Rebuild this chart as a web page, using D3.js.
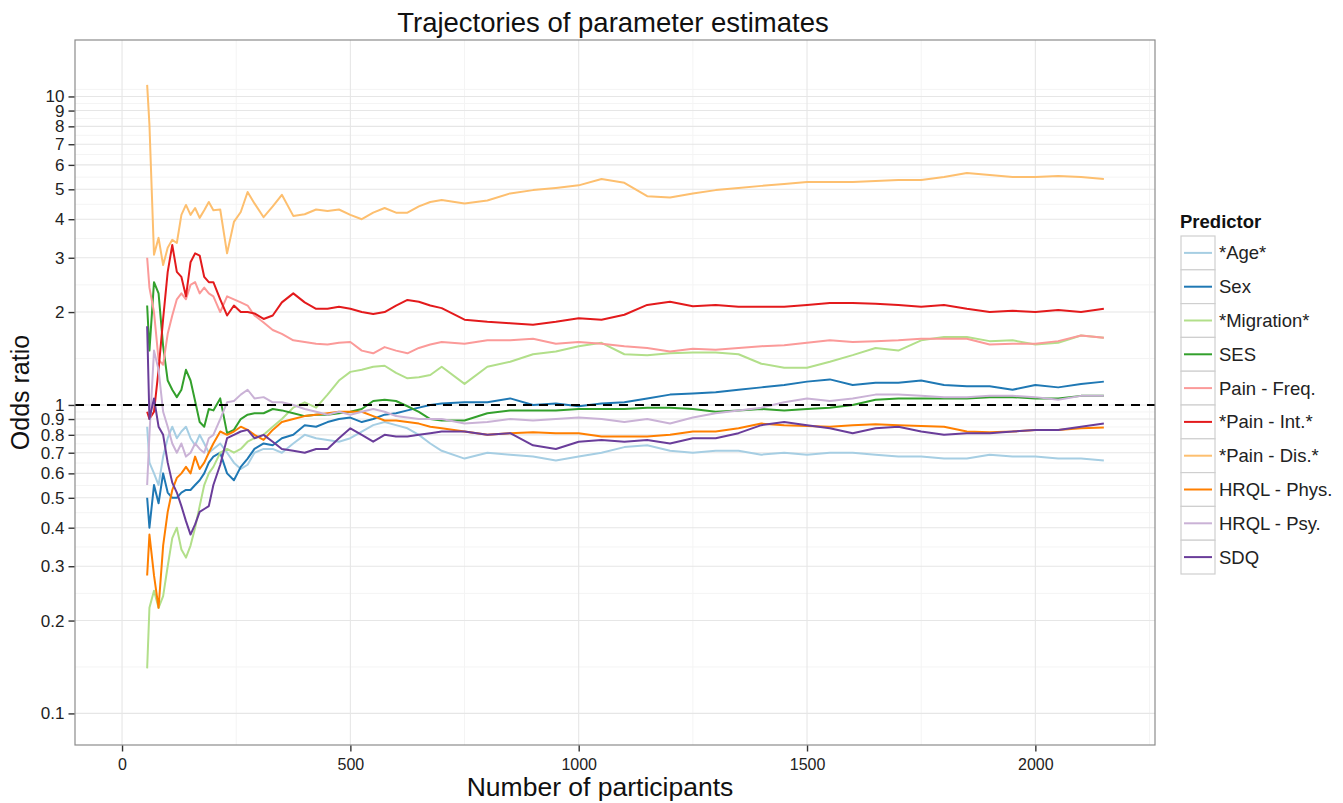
<!DOCTYPE html>
<html><head><meta charset="utf-8">
<script src="https://cdn.jsdelivr.net/npm/d3@7"></script>
<style>
html,body{margin:0;padding:0;background:#fff;}
svg text{font-family:"Liberation Sans",Arial,Helvetica,sans-serif;}
</style></head>
<body>
<svg id="chart" width="1343" height="803"></svg>
<script>
// ---------- data ----------
const participants = [55,60,70,80,90,100,110,120,130,140,150,160,170,180,190,200,
  215,230,245,260,275,290,310,330,350,
  375,400,425,450,475,500,525,550,575,600,625,650,675,700,
  750,800,850,900,950,1000,1050,1100,1150,1200,1250,1300,1350,1400,1450,1500,1550,1600,1650,1700,1750,1800,1850,1900,1950,2000,2050,2100,2150];

const age = [0.85,0.65,0.6,0.55,0.68,0.78,0.85,0.78,0.82,0.85,0.78,0.74,0.8,0.75,0.7,0.72,
  0.75,0.7,0.65,0.62,0.64,0.7,0.72,0.72,0.7,
  0.75,0.8,0.78,0.77,0.76,0.78,0.82,0.86,0.88,0.86,0.84,0.8,0.75,0.71,
  0.67,0.7,0.69,0.68,0.66,0.68,0.7,0.73,0.74,0.71,0.7,0.71,0.71,0.69,0.7,0.69,0.7,0.7,0.69,0.68,0.68,0.67,0.67,0.69,0.68,0.68,0.67,0.67,0.66];
const sex = [0.5,0.4,0.55,0.48,0.6,0.52,0.5,0.5,0.52,0.53,0.53,0.55,0.57,0.6,0.65,0.68,
  0.7,0.6,0.57,0.63,0.67,0.72,0.75,0.74,0.78,
  0.8,0.86,0.85,0.88,0.9,0.91,0.88,0.9,0.93,0.94,0.96,0.98,1.0,1.01,
  1.02,1.02,1.05,1.0,1.01,0.99,1.01,1.02,1.05,1.08,1.09,1.1,1.12,1.14,1.16,1.19,1.21,1.16,1.18,1.18,1.2,1.16,1.15,1.15,1.12,1.16,1.14,1.17,1.19];
const migration = [0.14,0.22,0.25,0.22,0.24,0.3,0.37,0.4,0.34,0.32,0.35,0.4,0.47,0.55,0.6,0.63,
  0.7,0.72,0.7,0.72,0.76,0.78,0.8,0.85,0.9,
  0.98,1.02,0.98,1.08,1.2,1.28,1.3,1.33,1.34,1.27,1.22,1.23,1.25,1.33,
  1.17,1.33,1.38,1.46,1.49,1.55,1.59,1.46,1.45,1.47,1.48,1.48,1.46,1.36,1.32,1.32,1.38,1.45,1.53,1.5,1.62,1.66,1.66,1.61,1.62,1.57,1.59,1.68,1.65];
const ses = [2.1,1.5,2.5,2.3,1.55,1.2,1.12,1.06,1.12,1.3,1.2,1.03,0.88,0.85,0.97,0.96,
  1.05,0.81,0.83,0.9,0.93,0.94,0.94,0.97,0.96,
  0.94,0.92,0.93,0.93,0.94,0.95,0.97,1.03,1.04,1.03,0.99,0.95,0.9,0.89,
  0.89,0.94,0.96,0.96,0.96,0.97,0.97,0.97,0.98,0.98,0.97,0.95,0.96,0.97,0.96,0.97,0.98,1.0,1.04,1.05,1.05,1.05,1.05,1.06,1.06,1.05,1.05,1.07,1.07];
const painFreq = [3.0,2.4,2.0,1.4,1.35,1.7,1.95,2.2,2.3,2.2,2.45,2.5,2.3,2.4,2.3,2.25,
  2.0,2.25,2.2,2.15,2.1,1.95,1.85,1.75,1.7,
  1.62,1.6,1.58,1.57,1.59,1.6,1.5,1.47,1.54,1.5,1.47,1.53,1.57,1.6,
  1.58,1.62,1.62,1.64,1.58,1.6,1.58,1.55,1.53,1.49,1.52,1.51,1.53,1.55,1.56,1.59,1.62,1.6,1.61,1.62,1.64,1.64,1.64,1.57,1.58,1.58,1.61,1.68,1.65];
const painInt = [0.95,0.9,0.95,1.3,1.9,2.7,3.3,2.7,2.6,2.25,2.9,3.1,3.05,2.6,2.5,2.5,
  2.2,1.95,2.1,2.0,2.0,1.98,1.9,1.95,2.15,
  2.3,2.15,2.05,2.05,2.08,2.05,2.0,1.97,2.0,2.1,2.19,2.16,2.1,2.06,
  1.89,1.86,1.84,1.82,1.86,1.91,1.89,1.96,2.11,2.16,2.09,2.11,2.08,2.08,2.08,2.11,2.14,2.14,2.13,2.11,2.08,2.11,2.05,2.0,2.02,2.0,2.03,2.0,2.05];
const painDis = [10.9,8.1,3.07,3.48,2.84,3.23,3.43,3.35,4.13,4.45,4.13,4.35,4.04,4.28,4.55,4.28,
  4.3,3.1,3.92,4.22,4.9,4.5,4.06,4.4,4.8,
  4.1,4.15,4.3,4.25,4.3,4.13,4.0,4.2,4.35,4.2,4.2,4.4,4.55,4.62,
  4.5,4.6,4.85,4.97,5.05,5.15,5.4,5.25,4.75,4.7,4.85,4.97,5.05,5.13,5.2,5.28,5.28,5.28,5.32,5.36,5.36,5.48,5.65,5.56,5.48,5.48,5.52,5.48,5.4];
const hrqlPhys = [0.28,0.38,0.28,0.22,0.35,0.45,0.53,0.58,0.6,0.63,0.6,0.68,0.62,0.65,0.7,0.75,
  0.82,0.8,0.82,0.85,0.83,0.8,0.77,0.83,0.88,
  0.9,0.92,0.93,0.94,0.95,0.95,0.95,0.92,0.89,0.89,0.88,0.87,0.85,0.84,
  0.82,0.8,0.81,0.815,0.81,0.81,0.79,0.79,0.79,0.8,0.82,0.82,0.84,0.87,0.86,0.855,0.85,0.86,0.865,0.86,0.855,0.85,0.82,0.815,0.82,0.83,0.83,0.84,0.845];
const hrqlPsy = [0.55,0.8,1.5,1.3,0.95,0.85,0.75,0.7,0.75,0.68,0.7,0.75,0.72,0.7,0.78,0.8,
  0.9,1.02,1.03,1.08,1.12,1.05,1.06,1.02,1.02,
  1.0,0.97,0.95,0.93,0.95,0.93,0.95,0.97,0.95,0.92,0.91,0.9,0.9,0.9,
  0.87,0.88,0.9,0.89,0.9,0.91,0.9,0.88,0.9,0.87,0.91,0.94,0.96,0.98,1.02,1.05,1.03,1.05,1.08,1.08,1.07,1.06,1.06,1.07,1.07,1.06,1.04,1.07,1.07];
const sdq = [1.8,0.9,1.05,0.85,0.8,0.65,0.56,0.52,0.47,0.42,0.38,0.41,0.45,0.46,0.47,0.55,
  0.64,0.78,0.8,0.82,0.83,0.78,0.8,0.76,0.72,
  0.71,0.7,0.72,0.72,0.78,0.84,0.8,0.76,0.8,0.79,0.79,0.8,0.81,0.82,
  0.82,0.8,0.81,0.74,0.72,0.76,0.77,0.76,0.77,0.75,0.78,0.78,0.81,0.86,0.88,0.86,0.84,0.81,0.84,0.85,0.82,0.8,0.81,0.81,0.82,0.83,0.83,0.85,0.87];

const seriesNames = ["*Age*","Sex","*Migration*","SES","Pain - Freq.","*Pain - Int.*","*Pain - Dis.*","HRQL - Phys.","HRQL - Psy.","SDQ"];
const seriesValues = [age, sex, migration, ses, painFreq, painInt, painDis, hrqlPhys, hrqlPsy, sdq];
const seriesColors = ["#A6CEE3","#1F78B4","#B2DF8A","#33A02C","#FB9A99","#E31A1C","#FDBF6F","#FF7F00","#CAB2D6","#6A3D9A"];

const xTicks = [0,500,1000,1500,2000];
const xMinor = [250,750,1250,1750,2250];
const yTicks = [0.1,0.2,0.3,0.4,0.5,0.6,0.7,0.8,0.9,1,2,3,4,5,6,7,8,9,10];
const yTickLabels = ["0.1","0.2","0.3","0.4","0.5","0.6","0.7","0.8","0.9","1","2","3","4","5","6","7","8","9","10"];
const refLine = 1;

// ---------- layout ----------
const svg = d3.select("#chart");
const P = {left:75, right:1155, top:40, bottom:745};
const x = d3.scaleLinear().domain([-103, 2262]).range([P.left, P.right]);
const y = d3.scaleLog().domain([0.079, 15.24]).range([P.bottom, P.top]);

// minor y breaks: midpoints in log space, plus one beyond each end
const yMinor = [];
for (let i = 0; i < yTicks.length - 1; i++) yMinor.push(Math.sqrt(yTicks[i]*yTicks[i+1]));
{
  const l0 = Math.log10(yTicks[0]), l1 = Math.log10(yTicks[1]);
  yMinor.push(Math.pow(10, l0 - (l1 - l0)/2));
  const n = yTicks.length;
  const a = Math.log10(yTicks[n-2]), b = Math.log10(yTicks[n-1]);
  yMinor.push(Math.pow(10, b + (b - a)/2));
}

const g = svg.append("g");
g.append("rect").attr("x",P.left).attr("y",P.top).attr("width",P.right-P.left).attr("height",P.bottom-P.top).attr("fill","#fff");

const clipId = "panelclip";
svg.append("defs").append("clipPath").attr("id",clipId).append("rect")
  .attr("x",P.left).attr("y",P.top).attr("width",P.right-P.left).attr("height",P.bottom-P.top);

const grid = g.append("g").attr("clip-path",`url(#${clipId})`);
grid.selectAll(".ymin").data(yMinor.filter(v=>v>y.domain()[0]&&v<y.domain()[1])).enter().append("line")
  .attr("x1",P.left).attr("x2",P.right).attr("y1",d=>y(d)).attr("y2",d=>y(d))
  .attr("stroke","#f4f4f4").attr("stroke-width",1);
grid.selectAll(".xmin").data(xMinor).enter().append("line")
  .attr("y1",P.top).attr("y2",P.bottom).attr("x1",d=>x(d)).attr("x2",d=>x(d))
  .attr("stroke","#f4f4f4").attr("stroke-width",1);
grid.selectAll(".ymaj").data(yTicks).enter().append("line")
  .attr("x1",P.left).attr("x2",P.right).attr("y1",d=>y(d)).attr("y2",d=>y(d))
  .attr("stroke","#e6e6e6").attr("stroke-width",1.1);
grid.selectAll(".xmaj").data(xTicks).enter().append("line")
  .attr("y1",P.top).attr("y2",P.bottom).attr("x1",d=>x(d)).attr("x2",d=>x(d))
  .attr("stroke","#e6e6e6").attr("stroke-width",1.1);

// series lines
const line = d3.line().x((d,i)=>x(participants[i])).y(d=>y(d));
const lines = g.append("g").attr("clip-path",`url(#${clipId})`);
seriesValues.forEach((vals, k) => {
  lines.append("path").datum(vals).attr("d", line)
    .attr("fill","none").attr("stroke",seriesColors[k]).attr("stroke-width",2)
    .attr("stroke-linejoin","round");
});

// reference line
g.append("line").attr("x1",P.left).attr("x2",P.right).attr("y1",y(refLine)).attr("y2",y(refLine))
  .attr("stroke","#000").attr("stroke-width",2).attr("stroke-dasharray","9,7");

// panel border
g.append("rect").attr("x",P.left).attr("y",P.top).attr("width",P.right-P.left).attr("height",P.bottom-P.top)
  .attr("fill","none").attr("stroke","#8c8c8c").attr("stroke-width",1.2);

// axes
const yAxis = d3.axisLeft(y).tickValues(yTicks).tickFormat((d,i)=>yTickLabels[i]).tickSize(6).tickPadding(4);
const ya = g.append("g").attr("transform",`translate(${P.left-0.5},0)`).call(yAxis);
ya.select(".domain").remove();
ya.selectAll(".tick line").attr("stroke","#333").attr("stroke-width",1.4);
ya.selectAll(".tick text").attr("font-size",17).attr("fill","#222");

const xAxis = d3.axisBottom(x).tickValues(xTicks).tickFormat(d3.format("d")).tickSize(6).tickPadding(7);
const xa = g.append("g").attr("transform",`translate(0,${P.bottom+0.5})`).call(xAxis);
xa.select(".domain").remove();
xa.selectAll(".tick line").attr("stroke","#333").attr("stroke-width",1.4);
xa.selectAll(".tick text").attr("font-size",16).attr("fill","#222");

// titles
svg.append("text").attr("x",(P.left+P.right)/2 - 2).attr("y",32).attr("text-anchor","middle")
  .attr("font-size",27.5).attr("fill","#111").text("Trajectories of parameter estimates");
svg.append("text").attr("x",(P.left+P.right)/2 - 15).attr("y",796).attr("text-anchor","middle")
  .attr("font-size",26.5).attr("fill","#111").text("Number of participants");
svg.append("text").attr("transform",`translate(29,${(P.top+P.bottom)/2}) rotate(-90)`).attr("text-anchor","middle")
  .attr("font-size",25).attr("fill","#111").text("Odds ratio");

// legend
const L = {x:1181, y:236, w:34, h:33.8};
const lg = svg.append("g");
lg.append("text").attr("x",1180).attr("y",228).attr("font-size",18.5).attr("font-weight","bold").attr("fill","#111").text("Predictor");
seriesNames.forEach((name,k)=>{
  const yy = L.y + k*L.h;
  lg.append("rect").attr("x",L.x).attr("y",yy).attr("width",L.w).attr("height",L.h)
    .attr("fill","#fff").attr("stroke","#cfcfcf").attr("stroke-width",1.2);
  lg.append("line").attr("x1",L.x+3).attr("x2",L.x+L.w-3).attr("y1",yy+L.h/2).attr("y2",yy+L.h/2)
    .attr("stroke",seriesColors[k]).attr("stroke-width",2);
  lg.append("text").attr("x",L.x+L.w+4).attr("y",yy+L.h/2+6.5).attr("font-size",18.5).attr("fill","#222").text(name);
});
</script>
</body></html>
